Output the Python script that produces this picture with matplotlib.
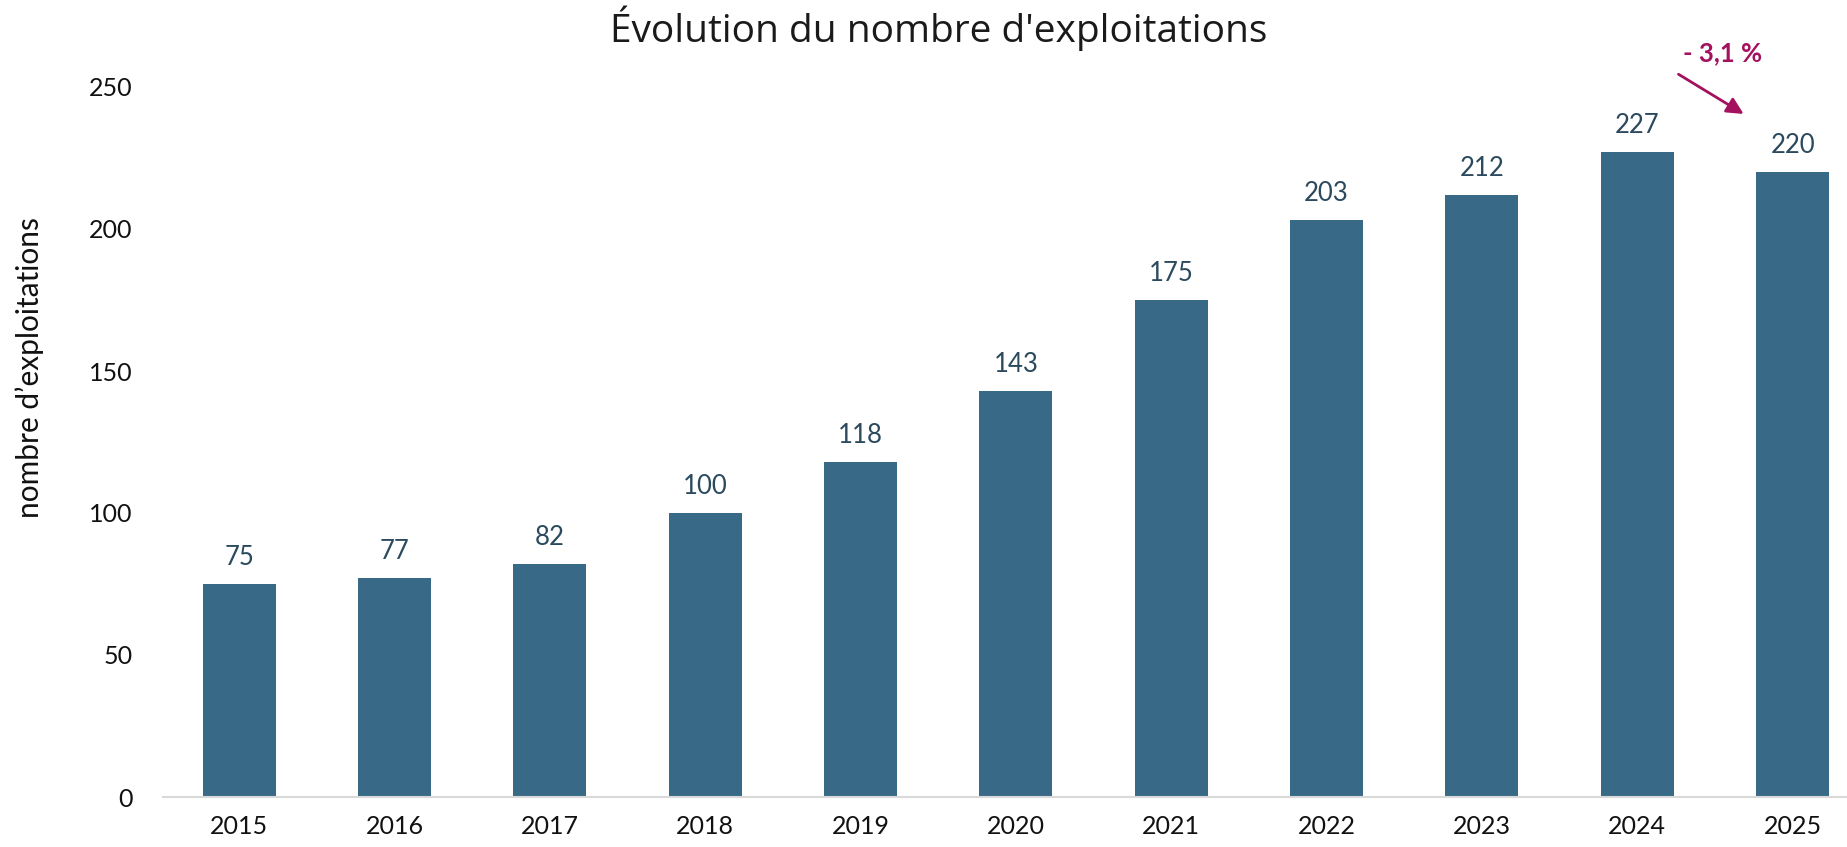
import matplotlib.pyplot as plt

annees = ["2015", "2016", "2017", "2018", "2019", "2020", "2021", "2022", "2023", "2024", "2025"]
nb_exploitations = [75, 77, 82, 100, 118, 143, 175, 203, 212, 227, 220]
yticks = [0, 50, 100, 150, 200, 250]
variation = "- 3,1 %"

couleur_barre = "#386a87"
couleur_label = "#2b4a5e"
couleur_annot = "#a3115f"

plt.rcParams['font.family'] = ['Lato', 'DejaVu Sans']

fig = plt.figure(figsize=(18.47, 8.47), dpi=100)
# axe : bas a y=797 px, 250 a y=87 px
ax = fig.add_axes([163 / 1847, 1 - 797 / 847, 1 - 163 / 1847, (797 - 87) / 847])

x = list(range(len(annees)))
ax.bar(x, nb_exploitations, width=0.47, color=couleur_barre)
for xi, v in zip(x, nb_exploitations):
    ax.text(xi, v + 5, str(v), ha="center", va="bottom", fontsize=18.5, color=couleur_label)

ax.set_xlim(-0.49, 10.35)
ax.set_ylim(0, 250)
ax.set_yticks(yticks)
ax.set_xticks(x)
ax.set_xticklabels(annees)
ax.tick_params(axis="both", length=0, labelsize=18, colors="#111111")
ax.tick_params(axis="x", pad=13)
ax.tick_params(axis="y", pad=22)

for cote in ["top", "right", "left"]:
    ax.spines[cote].set_visible(False)
ax.spines["bottom"].set_color("#d9d9d9")
ax.spines["bottom"].set_linewidth(1.5)

ax.set_ylabel("nombre d’exploitations", fontsize=21.5, labelpad=32, color="#111111")
ax.yaxis.label.set_y(0.605)

fig.text(939 / 1847, 1 - 28 / 847, "Évolution du nombre d'exploitations",
         ha="center", va="center", fontsize=28, color="#1a1a1a", family=['Open Sans', 'DejaVu Sans'])

# annotation de la baisse entre 2024 et 2025
ax.annotate("", xy=(9.70, 240), xytext=(9.25, 255),
            arrowprops=dict(arrowstyle="-|>", color=couleur_annot, lw=2, mutation_scale=25),
            annotation_clip=False)
ax.text(9.55, 262, variation, ha="center", va="center", fontsize=18.5, fontweight="bold",
        color=couleur_annot, clip_on=False)

fig.savefig("out.png", dpi=100)
